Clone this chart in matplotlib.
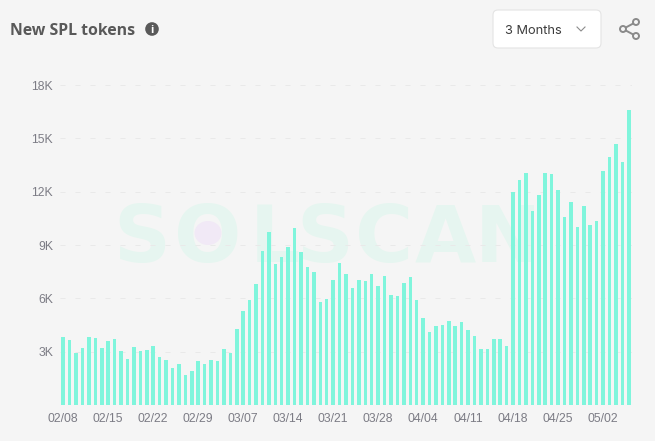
import matplotlib
matplotlib.use("Agg")
import matplotlib.pyplot as plt
from matplotlib.patches import Circle, Ellipse, FancyBboxPatch
import numpy as np

# daily new tokens (02/08 -> 05/06)
values = [3816, 3630, 2915, 3200, 3816, 3760, 3215, 3590, 3720, 3045,
          2610, 3270, 3030, 3100, 3310, 2700, 2540, 2090, 2310, 1690,
          1900, 2480, 2310, 2520, 2480, 3140, 2930, 4250, 5280, 5880,
          6820, 8650, 9720, 7930, 8330, 8870, 9960, 8610, 7780, 7500,
          5810, 5980, 7030, 7970, 7370, 6580, 7050, 6960, 7370, 6710,
          7280, 6190, 6130, 6880, 7200, 5920, 4910, 4100, 4456, 4510,
          4740, 4456, 4660, 4210, 3870, 3160, 3160, 3720, 3700, 3330,
          11960, 12630, 13030, 10890, 11830, 13030, 13010, 12070, 10600, 11430,
          10040, 11200, 10100, 10360, 13160, 13950, 14700, 13690, 16580]
x_labels = ["02/08", "02/15", "02/22", "02/29", "03/07", "03/14", "03/21",
            "03/28", "04/04", "04/11", "04/18", "04/25", "05/02"]
y_ticks = [0, 3000, 6000, 9000, 12000, 15000, 18000]
y_labels = ["", "3K", "6K", "9K", "12K", "15K", "18K"]
watermark = ["S", "O", "L", "S", "C", "A", "N"]

W, H = 655, 441
bg = "#f5f5f5"
label_color = "#7c7c85"
mark_color = "#e6f5f0"

fig = plt.figure(figsize=(W / 100, H / 100), dpi=100, facecolor=bg)

# pixel coordinate layer for the watermark and header
back = fig.add_axes([0, 0, 1, 1], zorder=0)
back.set_xlim(0, W)
back.set_ylim(H, 0)
back.axis("off")

mark_x = [142, 208, 275, 325, 384, 445, 508]
for letter, lx in zip(watermark, mark_x):
    back.text(lx, 262, letter, color=mark_color, fontsize=57, family="DejaVu Sans",
              fontweight="bold", ha="center", va="baseline")
back.add_patch(Ellipse((208, 233), 27, 24, color="#f1e9f6", lw=0))
back.plot([219, 228], [251, 259], color=bg, lw=3)  # notch in the logo O

ax = fig.add_axes([60 / W, (H - 405) / H, 572 / W, 320 / H], zorder=1)
ax.patch.set_alpha(0)
xs = np.arange(len(values))
ax.bar(xs, values, width=0.55, color="#80f5dc", zorder=2)
ax.set_xlim(-0.5, len(values) - 0.5)
ax.set_ylim(0, 18000)
ax.set_yticks(y_ticks)
ax.set_yticklabels(y_labels)
ax.set_xticks(xs[::7])
ax.set_xticklabels(x_labels)
ax.tick_params(length=0, labelsize=8.8, labelcolor=label_color, pad=6)
ax.tick_params(axis="y", pad=5)
for lab in ax.get_xticklabels() + ax.get_yticklabels():
    lab.set_family("Liberation Sans")
ax.grid(axis="y", color="#e9e9e9", linewidth=0.72, linestyle=(0, (5, 10)), zorder=1)
ax.set_axisbelow(True)
for s in ax.spines.values():
    s.set_visible(False)

# header
top = fig.add_axes([0, 0, 1, 1], zorder=2)
top.set_xlim(0, W)
top.set_ylim(H, 0)
top.axis("off")
top.text(10, 29, "New SPL tokens", color="#595959", fontsize=11.4, family="Open Sans",
         fontweight="bold", va="center_baseline")
top.add_patch(Circle((152, 29), 6.8, color="#595959", lw=0))
top.text(152, 29, "i", color="white", fontsize=8, family="Open Sans", fontweight="bold",
         ha="center", va="center_baseline")
top.add_patch(FancyBboxPatch((493, 10), 108, 38, boxstyle="round,pad=0,rounding_size=5",
                             fc="white", ec="#e4e4e4", lw=0.8))
top.text(505, 29, "3 Months", color="#3c3c3c", fontsize=9.2, family="Inter", va="center_baseline")
top.plot([577, 581, 585], [27, 31, 27], color="#8c8c8c", lw=0.8)
share = "#8a8a8a"
top.plot([636, 623, 636], [22, 29, 36], color=share, lw=1.4)
for cx, cy in [(636, 22), (623, 29), (636, 36)]:
    top.add_patch(Circle((cx, cy), 3, fc=bg, ec=share, lw=1.4, zorder=3))

fig.savefig("out.png", dpi=100, facecolor=bg)
